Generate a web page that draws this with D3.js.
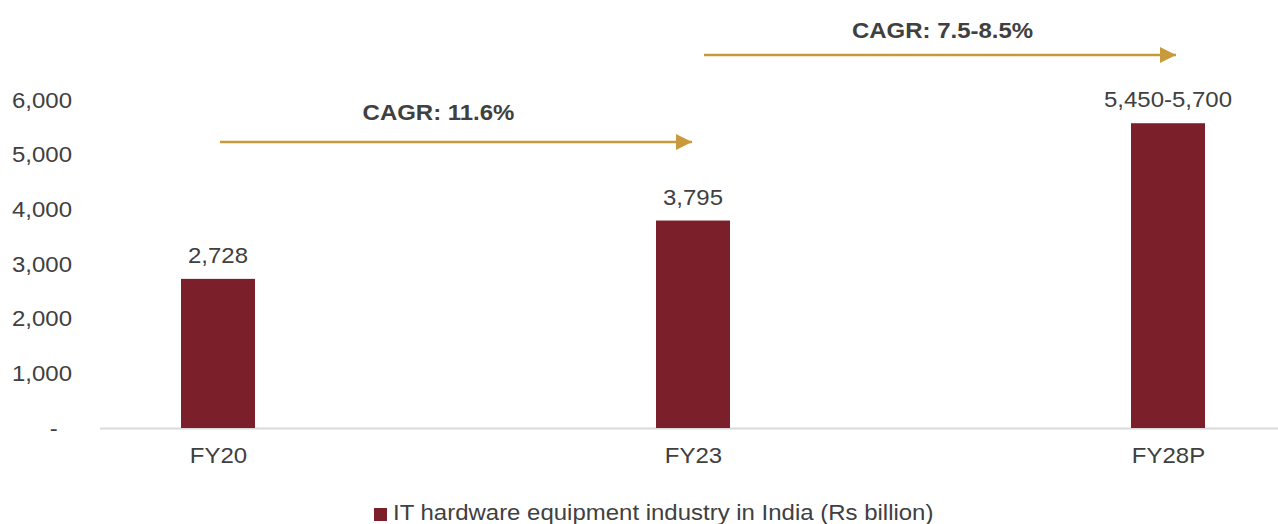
<!DOCTYPE html>
<html>
<head>
<meta charset="utf-8">
<script src="https://cdn.jsdelivr.net/npm/d3@7"></script>
<style>
  html, body { margin: 0; padding: 0; background: #ffffff; }
  svg { display: block; font-family: "Liberation Sans", Arial, sans-serif; }
</style>
</head>
<body>
<svg id="chart" width="1278" height="524"></svg>
<script>
// Market size of the IT hardware equipment industry in India (Rs billion)
const categories = ["FY20", "FY23", "FY28P"];
const values = [2728, 3795, 5575];
const valueLabels = ["2,728", "3,795", "5,450-5,700"];
const yTicks = [0, 1000, 2000, 3000, 4000, 5000, 6000];
const seriesName = "IT hardware equipment industry in India (Rs billion)";
// Growth annotations: label, start category, end category
const cagrLabels = ["CAGR: 11.6%", "CAGR: 7.5-8.5%"];
const cagrFrom = ["FY20", "FY23"];
const cagrTo = ["FY23", "FY28P"];

const barColor = "#7B1F2B";
const arrowColor = "#C99A3B";
const textColor = "#404040";
const fontSize = "22px";
const widen = 1.09; // slightly wide lettering

const svg = d3.select("#chart");

const x = d3.scalePoint().domain(categories).range([218, 1168]);
const y = d3.scaleLinear().domain([0, 6000]).range([428, 100]);
const barW = 74;

// place a text at (px, py) with widened glyphs
function placeText(sel, px, py) {
  sel.attr("x", 0).attr("y", 0)
    .attr("transform", (d, i, n) => {
      const tx = typeof px === "function" ? px(d, i, n) : px;
      const ty = typeof py === "function" ? py(d, i, n) : py;
      return `translate(${tx},${ty}) scale(${widen},1)`;
    });
  return sel;
}

// baseline
svg.append("line")
  .attr("x1", 100).attr("x2", 1278)
  .attr("y1", y(0) + 0.5).attr("y2", y(0) + 0.5)
  .attr("stroke", "#d9d9d9").attr("stroke-width", 2);

// y axis labels
const fmt = d3.format(",");
const yAxis = d3.axisLeft(y)
  .tickValues(yTicks)
  .tickSize(0)
  .tickPadding(0)
  .tickFormat(d => d === 0 ? "-" : fmt(d));
const yg = svg.append("g").attr("transform", "translate(72,0)").call(yAxis);
yg.select(".domain").remove();
yg.selectAll("text")
  .attr("fill", textColor)
  .style("font-size", fontSize)
  .style("font-family", "'Liberation Sans', Arial, sans-serif")
  .attr("x", d => d === 0 ? -13 : 0)
  .attr("transform", `scale(${widen},1)`);

// bars
svg.append("g").selectAll("rect")
  .data(values)
  .join("rect")
  .attr("x", (d, i) => x(categories[i]) - barW / 2)
  .attr("width", barW)
  .attr("y", d => y(d))
  .attr("height", d => y(0) - y(d))
  .attr("fill", barColor);

// value labels
svg.append("g").selectAll("text")
  .data(values)
  .join("text")
  .call(placeText, (d, i) => x(categories[i]), d => y(d) - 16)
  .attr("text-anchor", "middle")
  .attr("fill", textColor)
  .style("font-size", fontSize)
  .text((d, i) => valueLabels[i]);

// x axis labels
const xAxis = d3.axisBottom(x).tickSize(0).tickPadding(0);
const xg = svg.append("g").attr("transform", "translate(0,447)").call(xAxis);
xg.select(".domain").remove();
xg.selectAll("text")
  .attr("fill", textColor)
  .attr("dy", "0.71em")
  .attr("transform", `scale(${widen},1)`)
  .style("font-size", fontSize)
  .style("font-family", "'Liberation Sans', Arial, sans-serif");

// CAGR arrows
svg.append("defs").append("marker")
  .attr("id", "arrowhead")
  .attr("viewBox", "0 0 16 16")
  .attr("refX", 16).attr("refY", 8)
  .attr("markerWidth", 16).attr("markerHeight", 16)
  .attr("markerUnits", "userSpaceOnUse")
  .attr("orient", "auto")
  .append("path")
  .attr("d", "M0,0 L16,8 L0,16 Z")
  .attr("fill", arrowColor);

const arrowY = [142, 55];
const arrowX1 = [220, 704];
const arrowX2 = [692, 1176];
const labelShift = [-17, 12];
const labelBase = [120, 38];
const cagr = svg.append("g");
cagrLabels.forEach((label, i) => {
  cagr.append("line")
    .attr("x1", arrowX1[i]).attr("x2", arrowX2[i])
    .attr("y1", arrowY[i]).attr("y2", arrowY[i])
    .attr("stroke", arrowColor).attr("stroke-width", 2.5)
    .attr("marker-end", "url(#arrowhead)");
  cagr.append("text")
    .call(placeText, (x(cagrFrom[i]) + x(cagrTo[i])) / 2 + labelShift[i], labelBase[i])
    .attr("text-anchor", "middle")
    .attr("fill", textColor)
    .style("font-size", fontSize)
    .style("font-weight", "bold")
    .text(label);
});

// legend
const legend = svg.append("g").attr("transform", "translate(374,520)");
legend.append("rect")
  .attr("x", 0).attr("y", -12)
  .attr("width", 13).attr("height", 13)
  .attr("fill", barColor);
legend.append("text")
  .call(placeText, 19, 0)
  .attr("fill", textColor)
  .style("font-size", fontSize)
  .text(seriesName);
</script>
</body>
</html>
